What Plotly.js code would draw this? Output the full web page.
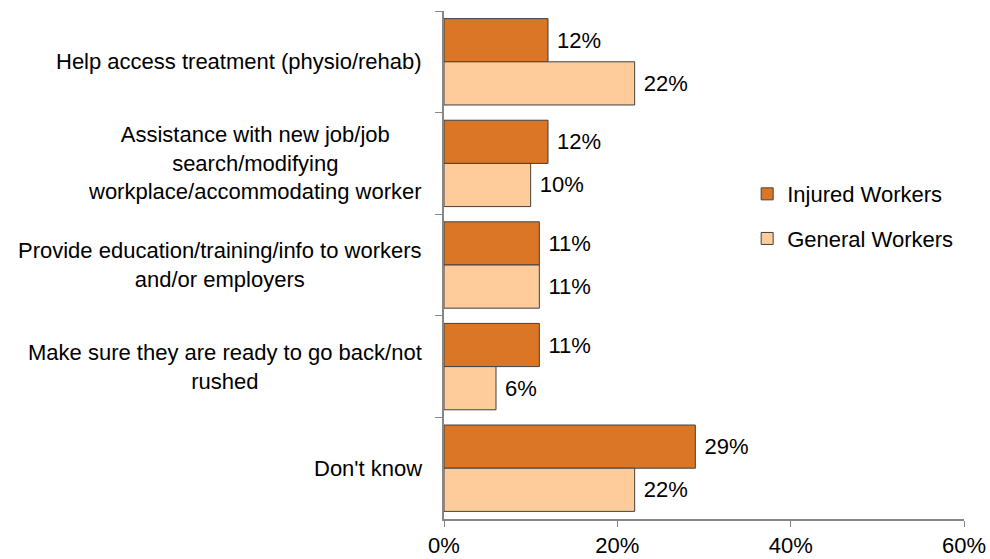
<!DOCTYPE html>
<html>
<head>
<meta charset="utf-8">
<script src="https://cdn.plot.ly/plotly-3.0.1.min.js"></script>
<style>html,body{margin:0;padding:0;background:#fff;}#chart{width:990px;height:559px;}</style>
</head>
<body>
<div id="chart"></div>
<script>
var categories = [
  "Help access treatment (physio/rehab)",
  "Assistance with new job/job<br>search/modifying<br>workplace/accommodating worker",
  "Provide education/training/info to workers<br>and/or employers",
  "Make sure they are ready to go back/not<br>rushed",
  "Don't know"
];
var injuredWorkers = [12, 12, 11, 11, 29];
var generalWorkers = [22, 10, 11, 6, 22];
var seriesNames = ["Injured Workers", "General Workers"];
var xTickVals = [0, 20, 40, 60];
var xTickText = ["0%", "20%", "40%", "60%"];

var FONT = "Liberation Sans, Arial, sans-serif";
var FS = 22;

function pct(arr){ return arr.map(function(v){ return "\u00a0" + v + "%"; }); }

var traces = [
  {
    type: "bar", orientation: "h", name: seriesNames[0], legendgroup: "a",
    y: categories, x: injuredWorkers, text: pct(injuredWorkers),
    textposition: "outside", cliponaxis: false,
    textfont: {family: FONT, size: FS, color: "#000"},
    marker: {color: "#DA7625", line: {color: "#404040", width: 1}},
    hoverinfo: "none"
  },
  {
    type: "bar", orientation: "h", name: seriesNames[1], legendgroup: "b",
    y: categories, x: generalWorkers, text: pct(generalWorkers),
    textposition: "outside", cliponaxis: false,
    textfont: {family: FONT, size: FS, color: "#000"},
    marker: {color: "#FECC9A", line: {color: "#404040", width: 1}},
    hoverinfo: "none"
  }
];

var annotations = categories.map(function(c){
  return {
    x: 0, xref: "x", y: c, yref: "y",
    text: c, showarrow: false, xanchor: "right", yanchor: "middle",
    align: "center", xshift: -20,
    font: {family: FONT, size: FS, color: "#000"}
  };
});

var layout = {
  width: 990, height: 559,
  margin: {l: 444, r: 26, t: 11, b: 40},
  paper_bgcolor: "#fff", plot_bgcolor: "#fff",
  font: {family: FONT, size: FS, color: "#000"},
  barmode: "group", bargap: 0.15, bargroupgap: 0,
  showlegend: true,
  legend: {
    x: 0.583, y: 0.681, xanchor: "left", yanchor: "top",
    font: {family: FONT, size: FS, color: "#000"},
    traceorder: "grouped", tracegroupgap: 13,
    itemwidth: 30, bgcolor: "rgba(0,0,0,0)"
  },
  xaxis: {
    range: [0, 60], tickvals: xTickVals, ticktext: xTickText,
    showgrid: false, zeroline: false,
    showline: true, linecolor: "#868686", linewidth: 2,
    ticks: "outside", ticklen: 6, tickcolor: "#868686", tickwidth: 1,
    tickfont: {family: FONT, size: FS, color: "#000"},
    fixedrange: true
  },
  yaxis: {
    type: "category", autorange: "reversed",
    showgrid: false, zeroline: false,
    showline: true, linecolor: "#868686", linewidth: 2,
    ticks: "outside", ticklen: 7, tickcolor: "#868686", tickwidth: 1,
    tickson: "boundaries", showticklabels: false,
    fixedrange: true
  },
  annotations: annotations
};

Plotly.newPlot("chart", traces, layout, {displayModeBar: false, staticPlot: true});
</script>
</body>
</html>
